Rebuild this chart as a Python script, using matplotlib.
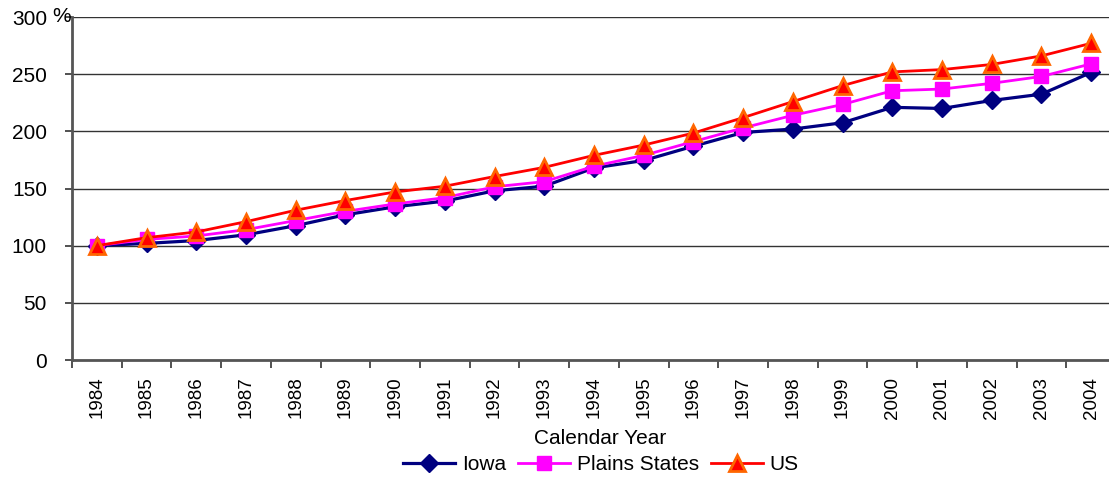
import numpy as np
import matplotlib.pyplot as plt
from matplotlib.ticker import FixedLocator, NullFormatter

plt.rcParams['font.family'] = ['Liberation Sans', 'DejaVu Sans']

years = list(range(1984, 2005))
iowa = [100, 102, 104.5, 109.5, 117.5, 127, 134, 139, 148, 152, 168, 174.5, 187, 199, 202, 207.5, 221, 220, 227, 232.5, 251.5]
plains = [100, 105.5, 108.5, 114, 122, 130, 136.5, 142, 151.5, 156, 169.5, 179, 191, 203, 214, 223.5, 235.5, 237, 242, 248, 259]
us = [100, 107, 112, 121, 131, 139.5, 147, 152, 160.5, 168.5, 179, 188, 198.5, 212, 226, 240, 252, 254, 258.5, 266, 277]

fig = plt.figure(figsize=(11.09, 4.79), dpi=100)
ax = fig.add_axes([0.0649, 0.2484, 0.9414, 0.7161])

x = np.arange(len(years))
ax.plot(x, iowa, color='#000080', lw=2.3, marker='D', ms=9, mfc='#000080', mec='#000080', label='Iowa', zorder=3)
ax.plot(x, plains, color='#FF00FF', lw=2, marker='s', ms=10.5, mfc='#FF00FF', mec='#FF00FF', label='Plains States', zorder=4)
ax.plot(x, us, color='#FF0000', lw=2, marker='^', ms=12, mfc='#FF0000', mec='#FF6600', mew=2, label='US', zorder=5)

ax.set_xlim(-0.5, len(years) - 0.5)
ax.set_ylim(0, 300)
ax.set_yticks(range(0, 301, 50))
ax.set_yticklabels(['0', '50', '100', '150', '200', '250', '300'], fontsize=15)
ax.grid(axis='y', color='#333333', lw=1)
ax.set_axisbelow(True)

ax.set_xticks(x)
ax.set_xticklabels([str(y) for y in years], rotation=90, fontsize=13.5)
ax.tick_params(axis='x', which='major', length=0, pad=12)
ax.xaxis.set_minor_locator(FixedLocator(np.arange(-0.5, len(years), 1)))
ax.xaxis.set_minor_formatter(NullFormatter())
ax.tick_params(axis='x', which='minor', length=6, width=1.2, color='#333333', direction='out')
ax.tick_params(axis='y', length=5, width=1.2, color='#333333', direction='out', pad=13)

for side in ['top', 'right']:
    ax.spines[side].set_visible(False)
for side in ['left', 'bottom']:
    ax.spines[side].set_color('#555555')
    ax.spines[side].set_linewidth(2)

fig.text(0.541, 1 - 438 / 479, 'Calendar Year', fontsize=15, ha='center', va='center')
fig.text(0.047, 1 - 17 / 479, '%', fontsize=15, ha='left', va='center')

fig.legend(*ax.get_legend_handles_labels(), loc='center', bbox_to_anchor=(0.542, 1 - 465 / 479),
           ncol=3, frameon=False, fontsize=15, handlelength=2.5, columnspacing=0.6,
           handletextpad=0.3, borderaxespad=0, borderpad=0)

fig.savefig('out.png', dpi=100)
